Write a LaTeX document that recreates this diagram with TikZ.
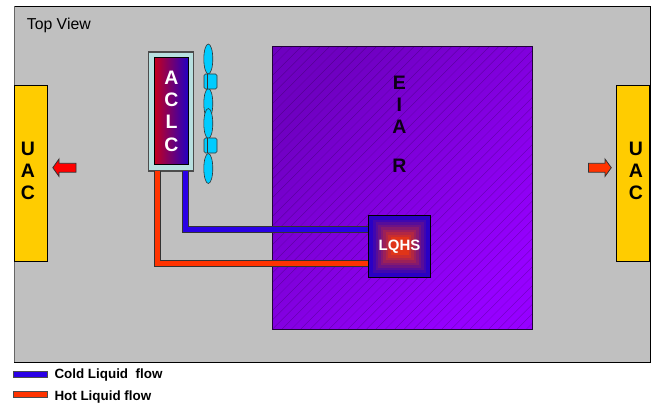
\documentclass[tikz,border=0pt]{standalone}
\usepackage{fontspec}
\setmainfont{Liberation Sans}
\usetikzlibrary{shapes.geometric}
\definecolor{framegray}{HTML}{C0C0C0}
\definecolor{uacyellow}{HTML}{FFCC00}
\definecolor{coldblue}{HTML}{2A00E6}
\definecolor{hotred}{HTML}{FF3300}
\definecolor{aclcteal}{HTML}{B8E0E0}
\definecolor{aclcred}{HTML}{C4001E}
\definecolor{aclcblue}{HTML}{2000C4}
\definecolor{eiarA}{HTML}{6E00C0}
\definecolor{eiarB}{HTML}{9600FF}
\definecolor{fancyan}{HTML}{00CCFF}
\definecolor{lqhsA}{HTML}{2A00C4}
\definecolor{lqhsB}{HTML}{E03418}
\newcommand{\lett}[1]{\textbf{#1}}
\tikzset{
  box/.style={draw=black,line width=0.9pt,inner sep=0pt,outer sep=0pt,rectangle},
  uacbox/.style={box,fill=uacyellow,minimum width=33pt,minimum height=176pt},
  bigletters/.style={inner sep=0pt,align=center,font=\fontsize{19.5}{22.3}\selectfont},
  pipe/.style={draw=black!80,line width=0.8pt,double distance=5pt,line join=miter},
  coldpipe/.style={pipe,double=coldblue},
  hotpipe/.style={pipe,double=hotred},
  blade/.style={ellipse,draw=black!80,line width=0.6pt,fill=fancyan,minimum width=9pt,minimum height=30pt,inner sep=0pt},
  hub/.style={rectangle,rounded corners=1.5pt,draw=black!80,line width=0.6pt,fill=fancyan,minimum width=13pt,minimum height=15pt,inner sep=0pt},
  blockarrow/.style={draw=black!80,line width=0.8pt,line join=miter},
  legendtext/.style={anchor=base west,inner sep=0pt,font=\fontsize{13.4}{14}\selectfont\bfseries},
  swatch/.style={draw=black!70,line width=0.8pt,inner sep=0pt,minimum width=34pt,minimum height=6.2pt},
  shadowbox/.style={fill=black!50,draw=none}
}
\begin{document}
\begin{tikzpicture}[x=1pt,y=-1pt]
\useasboundingbox (0,0) rectangle (654,404);
% frame
\node[box,fill=framegray,minimum width=636pt,minimum height=356pt] (frame) at (332.3,184) {};
\draw[black!60,line width=1.2pt] (frame.north west) -- (frame.south west);
\node[anchor=base west,inner sep=0pt,font=\fontsize{15.8}{16}\selectfont] (topview) at (26.7,30) {Top View};
% shadows
\fill[shadowbox] (274,48) rectangle (533.2,330.2);
\fill[shadowbox] (16,87) rectangle (48.2,262.2);
\fill[shadowbox] (618,87) rectangle (650,262.2);
\fill[shadowbox] (150,53.5) rectangle (194,172.2);
% UAC
\node[uacbox] (uacL) at (30.5,173) {};
\node[uacbox] (uacR) at (633,173) {};
\node[bigletters] (uacLt) at (28,171) {\lett{U}\\\lett{A}\\\lett{C}};
\node[bigletters] (uacRt) at (636,171) {\lett{U}\\\lett{A}\\\lett{C}};
% block arrows
\draw[blockarrow,fill=red] (52.8,167.7) -- (59,159) -- (59,163.3) -- (76,163.3) -- (76,172.2) -- (59,172.2) -- (59,176.4) -- cycle;
\draw[blockarrow,fill=hotred] (611.3,167.7) -- (605,159) -- (605,163.3) -- (588.5,163.3) -- (588.5,172.2) -- (605,172.2) -- (605,176.4) -- cycle;
% EIAR
\node[box,draw=black!70!eiarA,minimum width=259.3pt,minimum height=282.3pt,left color=eiarA,right color=eiarB,shading angle=45] (eiar) at (402.4,187.9) {};
\begin{scope}
  \clip (eiar.north west) rectangle (eiar.south east);
  \foreach \k in {0,...,58}{
    \draw[black,opacity=.28,line width=.3pt] (272.7+9.4*\k-282,329) -- (272.7+9.4*\k,47);
  }
\end{scope}
\draw[black!70!eiarA,line width=.9pt] (eiar.north west) rectangle (eiar.south east);
\node[bigletters,text=black!88!eiarA] (eiart) at (399.3,124) {\lett{E}\\\lett{I}\\\lett{A}\\[16pt]\lett{R}};
% LQHS
\node[box,minimum width=62.4pt,minimum height=62pt,fill=lqhsA] (lqhsbg) at (399.5,246.3) {};
\foreach \s/\p in {58/0,53/12,48/25,43/37,38/50,33/62,28/75,23/87,18/100}{
  \fill[lqhsB!\p!lqhsA] (399.5-\s/2,246.3-\s/2) rectangle (399.5+\s/2,246.3+\s/2);
}
\node[box,fill=none,minimum width=62.4pt,minimum height=62pt,text=white,font=\fontsize{15}{16}\selectfont\bfseries] (lqhs) at (399.5,246.3) {LQHS};
% ACLC
\node[box,draw=black!70,fill=aclcteal,line width=1.1pt,minimum width=44.3pt,minimum height=119pt] (aclcO) at (170.9,111.5) {};
\node[box,left color=aclcred,right color=aclcblue,minimum width=34.4pt,minimum height=106.5pt,bigletters,text=white] (aclc) at (171.5,111.2) {\lett{A}\\\lett{C}\\\lett{L}\\\lett{C}};
% pipes
\coordinate (coldtop) at (185.5,171);
\coordinate (coldbend) at (185.5,229.6);
\coordinate (hottop) at (157.5,171);
\coordinate (hotbend) at (157.5,263.7);
\draw[coldpipe] (coldtop) -- (coldbend) -- (lqhs.west |- coldbend);
\draw[hotpipe] (hottop) -- (hotbend) -- (lqhs.west |- hotbend);
% fan
\node[blade] (b1) at (208.3,59) {};
\node[blade] (b2) at (208.3,103.5) {};
\node[blade] (b3) at (208.3,123.5) {};
\node[blade] (b4) at (208.3,168.5) {};
\node[hub] (h1) at (210.5,81.5) {};
\node[hub] (h2) at (210.5,145.5) {};
\draw[black!80,line width=.5pt] (207.5,74) -- (207.5,89);
\draw[black!80,line width=.5pt] (207.5,138) -- (207.5,153);
% legend
\node[swatch,fill=coldblue] (lgc) at (30.2,374.4) {};
\node[swatch,fill=hotred] (lgh) at (30.2,394.2) {};
\node[legendtext] (lgct) at (54.3,378) {Cold Liquid\ \ flow};
\node[legendtext] (lght) at (54.3,400) {Hot Liquid flow};
\end{tikzpicture}
\end{document}
